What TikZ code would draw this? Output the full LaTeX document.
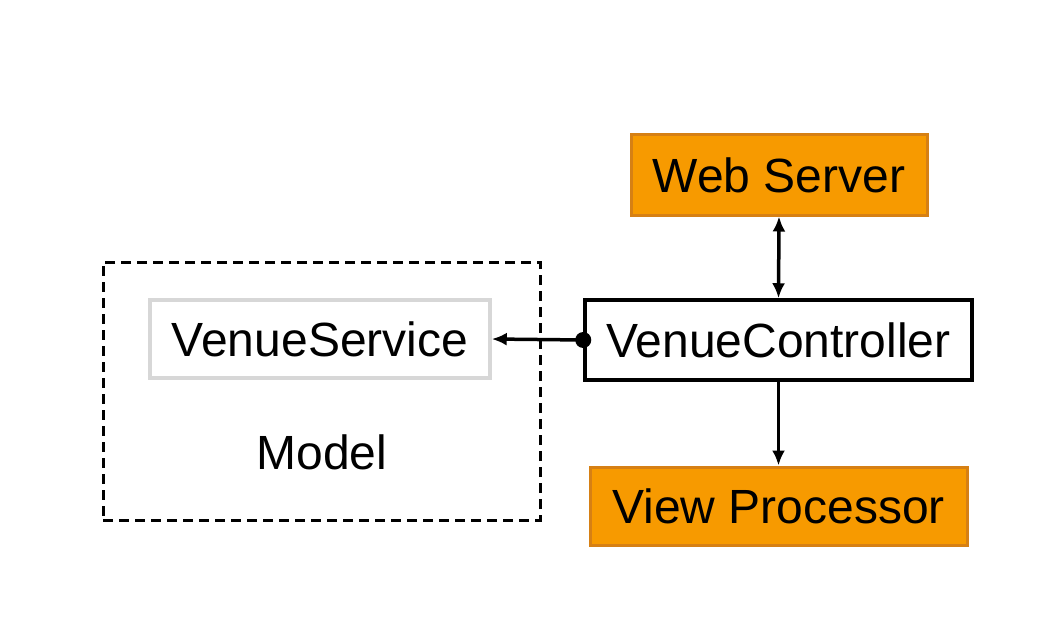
\documentclass[tikz,border=0pt]{standalone}
\usepackage{fontspec}
\setmainfont{Liberation Sans}
\usetikzlibrary{arrows.meta}
\definecolor{orfill}{RGB}{247,154,0}
\definecolor{ordraw}{RGB}{214,128,20}
\definecolor{lgray}{RGB}{215,215,215}
\begin{document}
\begin{tikzpicture}[x=1pt,y=-1pt,
  lbl/.style={font=\fontsize{48}{50}\selectfont, inner sep=0pt},
  orbox/.style={draw=ordraw, fill=orfill, line width=3pt, lbl},
  wbox/.style={draw=black, line width=3.5pt, fill=white, lbl},
  gbox/.style={draw=lgray, line width=3.5pt, fill=white, lbl},
  conn/.style={line width=3.5pt, -{Latex[length=15pt,width=13pt]}},
  dconn/.style={line width=3.5pt, {Latex[length=15pt,width=13pt]}-{Latex[length=15pt,width=13pt]}}
]
\useasboundingbox[fill=white] (0,0) rectangle (1046,631);
\node[draw, dashed, dash pattern=on 10pt off 6pt, line width=3pt, minimum width=437pt, minimum height=258pt, inner sep=0pt] (model) at (321.5,391) {};
\node[gbox, minimum width=340pt, minimum height=78pt] (svc) at (320,339) {VenueService};
\node[lbl] (mlabel) at (322,452) {Model};
\node[wbox, minimum width=387pt, minimum height=80pt] (ctl) at (778.5,340) {VenueController};
\node[orbox, minimum width=296pt, minimum height=80pt] (web) at (779,175) {Web Server};
\node[orbox, minimum width=377pt, minimum height=78pt] (view) at (778.5,506) {View Processor};
\draw[dconn] (web.south) -- (ctl.north);
\draw[conn] (ctl.south) -- (view.north);
\fill (ctl.west) circle (8pt);
\draw[conn] (ctl.west) -- (svc.east);
\end{tikzpicture}
\end{document}
